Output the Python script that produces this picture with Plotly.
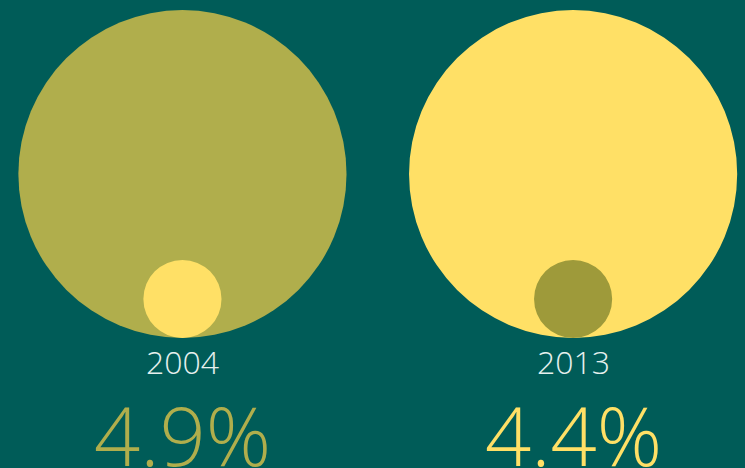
import plotly.graph_objects as go

# ---- data ----
years = ["2004", "2013"]
shares = [4.9, 4.4]                       # percent
big_colors = ["#B0AE4C", "#FFE066"]
small_colors = ["#FFE066", "#9E9A3A"]
pct_colors = ["#B0AE4C", "#FFE066"]

BG = "#005C58"
R_BIG = 0.42
R_SMALL = 0.10
SMALL_OFFSET = 0.32

fig = go.Figure()
# invisible trace to establish axes
fig.add_trace(go.Scatter(x=list(range(len(years))), y=[0] * len(years),
                         mode="markers", marker=dict(opacity=0), hoverinfo="skip",
                         showlegend=False))

shapes = []
annotations = []
for i, yr in enumerate(years):
    shapes.append(dict(type="circle", xref="x", yref="y",
                       x0=i - R_BIG, x1=i + R_BIG, y0=-R_BIG, y1=R_BIG,
                       fillcolor=big_colors[i], line=dict(width=0), layer="below"))
    cy = -SMALL_OFFSET
    shapes.append(dict(type="circle", xref="x", yref="y",
                       x0=i - R_SMALL, x1=i + R_SMALL, y0=cy - R_SMALL, y1=cy + R_SMALL,
                       fillcolor=small_colors[i], line=dict(width=0), layer="below"))
    annotations.append(dict(x=i, y=-0.481, xref="x", yref="y", text=yr,
                            showarrow=False, yanchor="middle",
                            font=dict(family="Open Sans", size=32, color="#E6F0EE", weight=300)))
    annotations.append(dict(x=i, y=-0.666, xref="x", yref="y", text=f"{shares[i]}%",
                            showarrow=False, yanchor="middle",
                            font=dict(family="Open Sans", size=81, color=pct_colors[i], weight=350)))

fig.update_layout(
    width=745, height=468,
    margin=dict(l=0, r=0, t=0, b=0),
    paper_bgcolor=BG, plot_bgcolor=BG,
    shapes=shapes, annotations=annotations,
    xaxis=dict(range=[-0.467, 1.440], visible=False, fixedrange=True),
    yaxis=dict(range=[-0.7529, 0.4456], visible=False, fixedrange=True),
    showlegend=False,
)

fig.write_html("out.html", config={"displayModeBar": False, "staticPlot": True},
               post_script="document.body.style.margin='0';document.body.style.background='#005C58';")
